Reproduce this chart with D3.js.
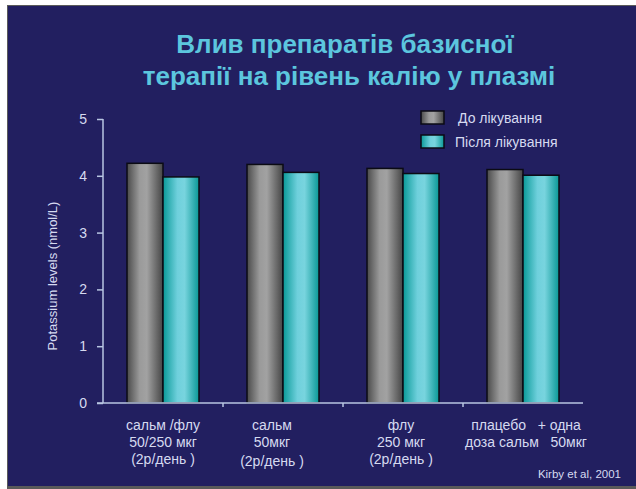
<!DOCTYPE html>
<html><head><meta charset="utf-8">
<script src="https://cdn.jsdelivr.net/npm/d3@7"></script>
<style>body{margin:0;background:#fff}svg{display:block}</style>
</head><body>
<script>
const categories = [
  ["сальм /флу", "50/250 мкг", "(2р/день )"],
  ["сальм", "50мкг", "(2р/день )"],
  ["флу", "250 мкг", "(2р/день )"],
  ["плацебо   + одна", "доза сальм   50мкг"]
];
const seriesNames = ["До лікування", "Після лікування"];
const before = [4.22, 4.20, 4.13, 4.11];
const after = [3.98, 4.06, 4.04, 4.01];
const yTicks = [0, 1, 2, 3, 4, 5];
const titleLines = ["Влив препаратів базисної", "терапії на рівень калію у плазмі"];
const yLabel = "Potassium levels (nmol/L)";
const source = "Kirby et al, 2001";

const W = 636, H = 489;
const svg = d3.select("body").append("svg").attr("width", W).attr("height", H);
const defs = svg.append("defs");
function grad(id, stops) {
  const g = defs.append("linearGradient").attr("id", id).attr("x1", "0").attr("x2", "1").attr("y1", "0").attr("y2", "0");
  stops.forEach(s => g.append("stop").attr("offset", s[0]).attr("stop-color", s[1]));
}
grad("gGray", [[0, "#4a4a4a"], [0.35, "#9a9a9a"], [0.55, "#a2a2a2"], [1, "#454545"]]);
grad("gCyan", [[0, "#0a9a98"], [0.4, "#6fd0dc"], [0.6, "#78d4de"], [1, "#0a9896"]]);
const fills = ["url(#gGray)", "url(#gCyan)"];

// background & frame
svg.append("rect").attr("x", 0).attr("y", 0).attr("width", W).attr("height", H).attr("fill", "#ffffff");
svg.append("rect").attr("x", 7).attr("y", 5).attr("width", W - 7).attr("height", H - 5).attr("fill", "#5a5a5a");
svg.append("rect").attr("x", 8).attr("y", 6).attr("width", W - 8).attr("height", H - 9).attr("fill", "#221f60");

const font = "Liberation Sans, Arial, sans-serif";

// title
const title = svg.append("text").attr("text-anchor", "middle")
  .attr("font-family", font).attr("font-weight", "bold")
  .attr("font-size", 26).attr("fill", "#5cc6de");
titleLines.forEach((t, i) => title.append("tspan").attr("x", i === 0 ? 345 : 349).attr("y", 53 + i * 32).text(t));

const x0 = 103, x1 = 583, yTop = 119, yBot = 403;
const x = d3.scaleBand().domain(d3.range(categories.length)).range([x0, x1]).paddingInner(0.4).paddingOuter(0.2);
const xs = d3.scaleBand().domain(d3.range(seriesNames.length)).range([0, x.bandwidth()]);
const y = d3.scaleLinear().domain([0, 5]).range([yBot, yTop]);

const axisColor = "#b8c6e2", textColor = "#d6daf0";

// bars
const data = categories.map((c, i) => [before[i], after[i]]);
const groups = svg.append("g").selectAll("g").data(data).join("g")
  .attr("transform", (d, i) => `translate(${x(i)},0)`);
groups.selectAll("rect").data(d => d).join("rect")
  .attr("x", (d, j) => xs(j)).attr("width", xs.bandwidth())
  .attr("y", d => y(d)).attr("height", d => y(0) - y(d))
  .attr("fill", (d, j) => fills[j]).attr("stroke", "#0b0b14").attr("stroke-width", 1.5);

// y axis
const yAxis = svg.append("g").attr("transform", `translate(${x0},0)`)
  .call(d3.axisLeft(y).tickValues(yTicks).tickSize(6).tickPadding(10).tickFormat(d3.format("d")));
yAxis.select(".domain").attr("stroke", axisColor).attr("stroke-width", 1.5).attr("d", `M0,${yTop}V${yBot}`);
yAxis.selectAll(".tick line").attr("stroke", axisColor).attr("stroke-width", 1.5);
yAxis.selectAll(".tick text").attr("fill", textColor).attr("font-family", font).attr("font-size", 14);

// x axis
svg.append("line").attr("x1", x0 - 6).attr("x2", x1).attr("y1", yBot).attr("y2", yBot)
  .attr("stroke", axisColor).attr("stroke-width", 1.5);
const bounds = d3.range(1, categories.length).map(i => x0 + i * x.step());
svg.append("g").selectAll("line").data(bounds).join("line")
  .attr("x1", d => d).attr("x2", d => d).attr("y1", yBot).attr("y2", yBot + 4)
  .attr("stroke", axisColor).attr("stroke-width", 1.5);

// category labels
const labelX = [163, 272, 401, 526];
categories.forEach((lines, i) => {
  const t = svg.append("text").attr("text-anchor", "middle").attr("font-family", font)
    .attr("font-size", 14).attr("fill", textColor);
  lines.forEach((l, k) => t.append("tspan").attr("x", labelX[i]).attr("y", 430 + k * 17 + (i === 1 && k === 2 ? 2 : 0)).attr("xml:space", "preserve").text(l));
});

// y label
svg.append("text").attr("transform", `translate(57,276) rotate(-90)`)
  .attr("text-anchor", "middle").attr("font-family", font).attr("font-size", 13)
  .attr("fill", textColor).text(yLabel);

// legend
const leg = svg.append("g").attr("transform", "translate(421,111)");
seriesNames.forEach((n, i) => {
  leg.append("rect").attr("x", 0).attr("y", i * 24).attr("width", 23).attr("height", 13)
    .attr("fill", fills[i]).attr("stroke", "#0b0b14").attr("stroke-width", 1.5);
  leg.append("text").attr("x", i === 0 ? 37 : 34).attr("y", i * 24 + 12).attr("font-family", font)
    .attr("font-size", 14).attr("fill", textColor).text(n);
});

// source
svg.append("text").attr("x", 621).attr("y", 478).attr("text-anchor", "end").attr("font-family", font)
  .attr("font-size", 11.5).attr("fill", textColor).text(source);
</script>
</body></html>
